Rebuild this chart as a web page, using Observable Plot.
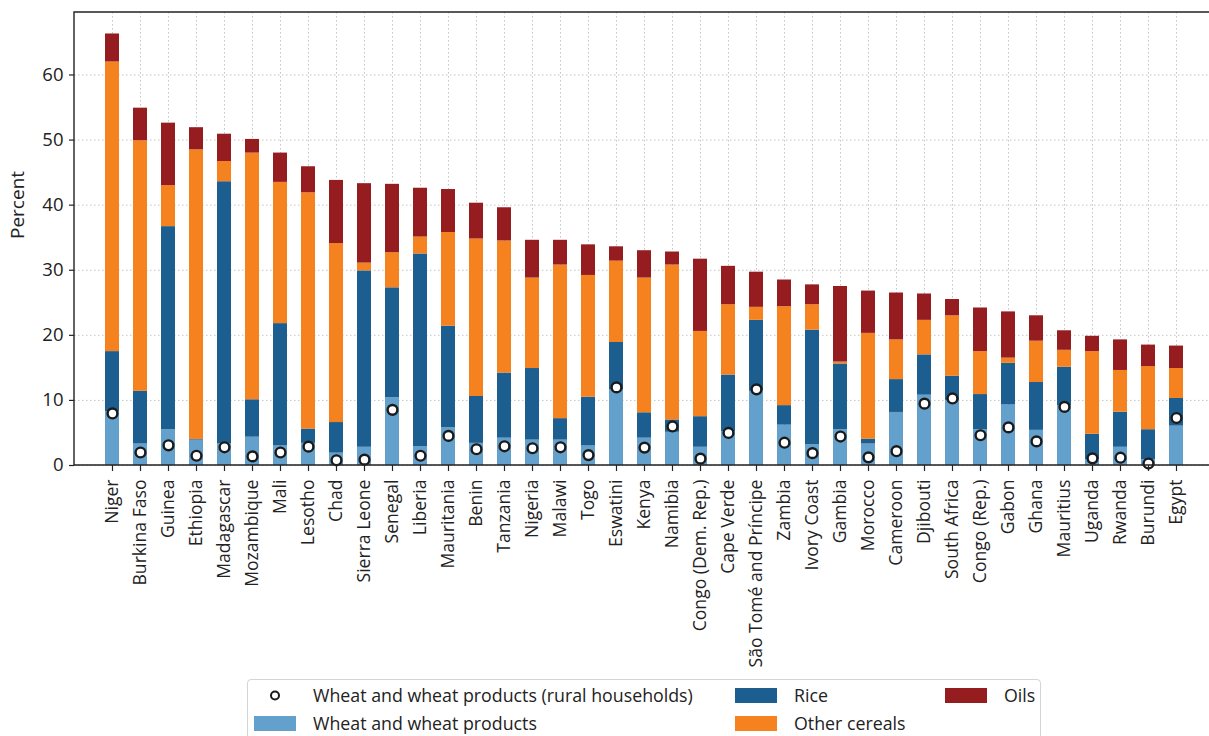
<!DOCTYPE html>
<html>
<head>
<meta charset="utf-8">
<script src="https://cdn.jsdelivr.net/npm/d3@7"></script>
<script src="https://cdn.jsdelivr.net/npm/@observablehq/plot@0.6"></script>
<style>
  body { margin: 0; background: #fff; overflow: hidden; font-family: "Open Sans", sans-serif; }
  #chart { position: relative; width: 1209px; height: 736px; }
  #legend {
    position: absolute; left: 247px; top: 679px; width: 794px; height: 70px;
    border: 1px solid #d4d4d4; border-radius: 4px; box-sizing: border-box; background: #fff;
  }
  .item { position: absolute; height: 20px; display: flex; align-items: center;
          font-size: 17.8px; color: #222; white-space: nowrap; }
  .sw { width: 42px; height: 15px; margin-right: 17px; flex: none; }
</style>
</head>
<body>
<div id="chart"></div>
<script>
// Share of food budget by country, in percent
const countries = [
  "Niger", "Burkina Faso", "Guinea", "Ethiopia", "Madagascar", "Mozambique", "Mali",
  "Lesotho", "Chad", "Sierra Leone", "Senegal", "Liberia", "Mauritania", "Benin",
  "Tanzania", "Nigeria", "Malawi", "Togo", "Eswatini", "Kenya", "Namibia",
  "Congo (Dem. Rep.)", "Cape Verde", "São Tomé and Príncipe", "Zambia", "Ivory Coast",
  "Gambia", "Morocco", "Cameroon", "Djibouti", "South Africa", "Congo (Rep.)", "Gabon",
  "Ghana", "Mauritius", "Uganda", "Rwanda", "Burundi", "Egypt"
];
const wheat = [8.3, 3.3, 5.5, 3.9, 3.3, 4.35, 3.0, 3.4, 1.9, 2.8, 10.4, 2.9, 5.8, 3.4, 4.2, 3.9, 3.9, 3.0, 11.6, 4.2,
  5.1, 2.8, 5.2, 11.4, 6.2, 3.2, 5.5, 3.3, 8.15, 10.8, 10.0, 5.5, 9.3, 5.4, 9.2, 0.9, 2.8, 0.9, 6.05];
const rice = [9.2, 8.1, 31.2, 0.1, 40.3, 5.75, 18.8, 2.2, 4.7, 27.1, 16.9, 29.6, 15.6, 7.2, 10.0, 11.0, 3.3, 7.5, 7.3, 3.9,
  1.9, 4.7, 8.7, 10.9, 3.0, 17.6, 10.1, 0.75, 5.05, 6.2, 3.7, 5.4, 6.4, 7.35, 5.9, 3.9, 5.4, 4.6, 4.25];
const otherCereals = [44.5, 38.5, 6.3, 44.5, 3.1, 37.9, 21.7, 36.3, 27.5, 1.2, 5.4, 2.6, 14.4, 24.2, 20.3, 13.9, 23.6, 18.7, 12.5, 20.7,
  23.8, 13.1, 10.8, 2.0, 15.2, 3.9, 0.3, 16.25, 6.1, 5.3, 9.3, 6.6, 0.8, 6.35, 2.6, 12.7, 6.4, 9.7, 4.6];
const oils = [4.3, 5.0, 9.6, 3.4, 4.2, 2.1, 4.5, 4.0, 9.7, 12.2, 10.5, 7.5, 6.6, 5.5, 5.1, 5.8, 3.8, 4.7, 2.2, 4.2,
  2.0, 11.1, 5.9, 5.4, 4.1, 3.05, 11.6, 6.5, 7.2, 4.05, 2.5, 6.7, 7.1, 3.9, 3.0, 2.35, 4.7, 3.3, 3.45];
const wheatRural = [8.0, 2.0, 3.1, 1.5, 2.8, 1.4, 2.0, 2.9, 0.8, 0.9, 8.55, 1.5, 4.55, 2.5, 2.95, 2.65, 2.8, 1.6, 12.0, 2.75,
  6.0, 1.05, 5.0, 11.7, 3.5, 1.9, 4.45, 1.25, 2.2, 9.5, 10.3, 4.65, 5.85, 3.7, 9.0, 1.1, 1.2, 0.3, 7.3];

const series = ["Wheat and wheat products", "Rice", "Other cereals", "Oils"];
const seriesColors = ["#64a0cc", "#1d5e90", "#f5821f", "#951c1f"];
const ruralLabel = "Wheat and wheat products (rural households)";
const yTicks = [0, 10, 20, 30, 40, 50, 60];

// Long table for the stacked bars, bottom to top
const seriesValues = [wheat, rice, otherCereals, oils];
const rows = countries.flatMap((country, i) =>
  seriesValues.map((vals, j) => ({country, series: series[j], value: vals[i]})));
const ruralRows = countries.map((country, i) => ({country, value: wheatRural[i]}));

const ink = "#222";
const gridStyle = {stroke: "#c4c4c4", strokeOpacity: 1, strokeWidth: 1, strokeDasharray: "1.5,2.5"};

// Axes box: left, top and bottom spines
function spines(index, scales, values, dims) {
  const l = dims.marginLeft, t = dims.marginTop;
  const b = dims.height - dims.marginBottom, r = dims.width - dims.marginRight;
  const g = d3.create("svg:g");
  g.append("path")
    .attr("fill", "none").attr("stroke", ink).attr("stroke-width", 1.4)
    .attr("d", `M${r + 5},${t}H${l}V${b}H${r + 5}`);
  return g.node();
}

const plot = Plot.plot({
  width: 1209,
  height: 672,
  marginLeft: 74,
  marginRight: 0,
  marginTop: 12,
  marginBottom: 207,
  style: {fontFamily: "'Open Sans', sans-serif", fontSize: "17.5px", color: ink, background: "white"},
  x: {domain: countries, range: [74, 1214], paddingInner: 0.5, paddingOuter: 0.75, label: null},
  y: {domain: [0, 69.6], range: [465, 12], label: null},
  color: {domain: series, range: seriesColors},
  marks: [
    Plot.gridY(yTicks, gridStyle),
    Plot.gridX(gridStyle),
    Plot.barY(rows, {x: "country", y: "value", fill: "series"}),
    Plot.dot(ruralRows, {x: "country", y: "value", r: 4.9, fill: "white", stroke: "#1a1a1a", strokeWidth: 2.4}),
    Plot.axisY(yTicks, {tickSize: 5, tickPadding: 6, fontSize: 18.5, label: null, strokeWidth: 1.2}),
    Plot.axisX({tickRotate: -90, tickSize: 6, tickPadding: 8, fontSize: 17.6, label: null, strokeWidth: 1.2}),
    Plot.text(["Percent"], {text: d => d, frameAnchor: "left", rotate: -90, dx: -57, fontSize: 19, fill: ink}),
    spines
  ]
});

const chart = document.getElementById("chart");
chart.appendChild(plot);

// Legend below the plot
const legendItems = [
  {label: ruralLabel, kind: "dot", col: 0, row: 0},
  {label: series[0], kind: "bar", color: seriesColors[0], col: 0, row: 1},
  {label: series[1], kind: "bar", color: seriesColors[1], col: 1, row: 0},
  {label: series[2], kind: "bar", color: seriesColors[2], col: 1, row: 1},
  {label: series[3], kind: "bar", color: seriesColors[3], col: 2, row: 0}
];
const colLeft = [6, 487, 697];
const rowTop = [5, 33];
const legend = document.createElement("div");
legend.id = "legend";
for (const it of legendItems) {
  const item = document.createElement("div");
  item.className = "item";
  item.style.left = colLeft[it.col] + "px";
  item.style.top = rowTop[it.row] + "px";
  let sw;
  if (it.kind === "dot") {
    sw = document.createElementNS("http://www.w3.org/2000/svg", "svg");
    sw.setAttribute("width", 42); sw.setAttribute("height", 15);
    sw.setAttribute("class", "sw");
    const c = document.createElementNS("http://www.w3.org/2000/svg", "circle");
    c.setAttribute("cx", 21); c.setAttribute("cy", 7.5); c.setAttribute("r", 4);
    c.setAttribute("fill", "white"); c.setAttribute("stroke", "#1a1a1a"); c.setAttribute("stroke-width", 2);
    sw.appendChild(c);
  } else {
    sw = document.createElement("div");
    sw.className = "sw";
    sw.style.background = it.color;
  }
  item.appendChild(sw);
  const t = document.createElement("span");
  t.textContent = it.label;
  item.appendChild(t);
  legend.appendChild(item);
}
chart.appendChild(legend);
</script>
</body>
</html>
